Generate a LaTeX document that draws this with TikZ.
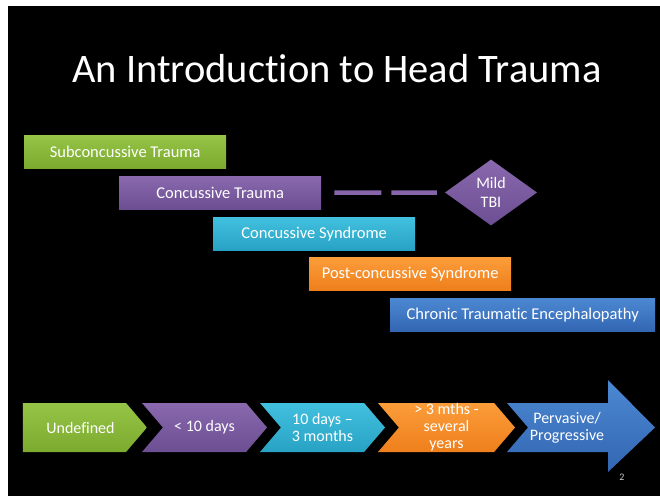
\documentclass[tikz,border=0pt]{standalone}
\usepackage{fontspec}
\setmainfont{Carlito}[Ligatures=NoCommon]
\usetikzlibrary{shapes.geometric,shapes.symbols}

\definecolor{grnTop}{HTML}{95C447}
\definecolor{grnBot}{HTML}{7BAA2E}
\definecolor{purTop}{HTML}{8A69AE}
\definecolor{purBot}{HTML}{6C4E92}
\definecolor{cyaTop}{HTML}{42C0DF}
\definecolor{cyaBot}{HTML}{28A2C4}
\definecolor{ornTop}{HTML}{FB9D3A}
\definecolor{ornBot}{HTML}{EE7F1C}
\definecolor{bluTop}{HTML}{4C88D2}
\definecolor{bluBot}{HTML}{3366B2}

\begin{document}
\begin{tikzpicture}[x=1pt, y=-1pt,
   box_style/.style={rectangle, anchor=north west, minimum height=33pt, minimum width=202pt,
     inner sep=0pt, text=white, font=\fontsize{16.5}{18}\selectfont},
   step_style/.style={signal, signal to=east, signal pointer angle=99, minimum height=49pt,
     minimum width=125pt, inner sep=0pt, text=white, align=center,
     font=\fontsize{16}{17}\selectfont}]
	\useasboundingbox (0,0) rectangle (660,496);
	\fill[white] (0,0) rectangle (660,496);
	\fill[black] (8,6) rectangle (660,496);

	\node [text=white, font=\fontsize{40.5}{44}\selectfont] (title) at (337,69) {An Introduction to Head Trauma};

	% stages
	\node [box_style, top color=grnTop, bottom color=grnBot] (subtrauma) at (24,135) {Subconcussive Trauma};
	\node [box_style, top color=purTop, bottom color=purBot] (contrauma) at (119,176) {Concussive Trauma};
	\node [box_style, top color=cyaTop, bottom color=cyaBot] (consyn) at (213,217) {Concussive Syndrome};
	\node [box_style, top color=ornTop, bottom color=ornBot] (postsyn) at (309,257) {Post-concussive Syndrome};
	\node [box_style, top color=bluTop, bottom color=bluBot, minimum width=265pt] (cte) at (390,298) {Chronic Traumatic Encephalopathy};

	\node [diamond, top color=purTop, bottom color=purBot, minimum width=92pt, minimum height=66pt,
	  inner sep=0pt, text=white, align=center, font=\fontsize{16}{19}\selectfont] (mildtbi) at (491,192.5) {Mild\\TBI};
	\draw [purTop!85!purBot, line width=4.5pt, dash pattern=on 47pt off 10pt, shorten >=8pt]
	  ([xshift=13pt]contrauma.east) -- (mildtbi.west);

	% time line
	\node [step_style, top color=grnTop, bottom color=grnBot, minimum width=124pt] (undef) at (74.5,427.5) {\hspace*{12pt}Undefined};
	\node [step_style, signal from=west, top color=purTop, bottom color=purBot] (tendays) at (204.5,427.5) {<~10 days};
	\node [step_style, signal from=west, top color=cyaTop, bottom color=cyaBot] (months) at (322.5,427.5) {10 days –\\3 months};
	\node [step_style, signal from=west, top color=ornTop, bottom color=ornBot, minimum width=137pt] (years) at (446.5,427.5) {>~3 mths -\\several\\years};

	\shade [top color=bluTop, bottom color=bluBot] (507,403) -- (608,403) -- (608,380) -- (655,427.5)
	  -- (608,472) -- (608,452) -- (507,452) -- (528,427.5) -- cycle;
	\node [text=white, align=center, font=\fontsize{16}{17}\selectfont] (pervasive) at (567,427.5) {Pervasive/\\Progressive};

	\node [text=white!80!black, font=\fontsize{10}{11}\selectfont] (pagenum) at (622,477) {2};
\end{tikzpicture}
\end{document}
